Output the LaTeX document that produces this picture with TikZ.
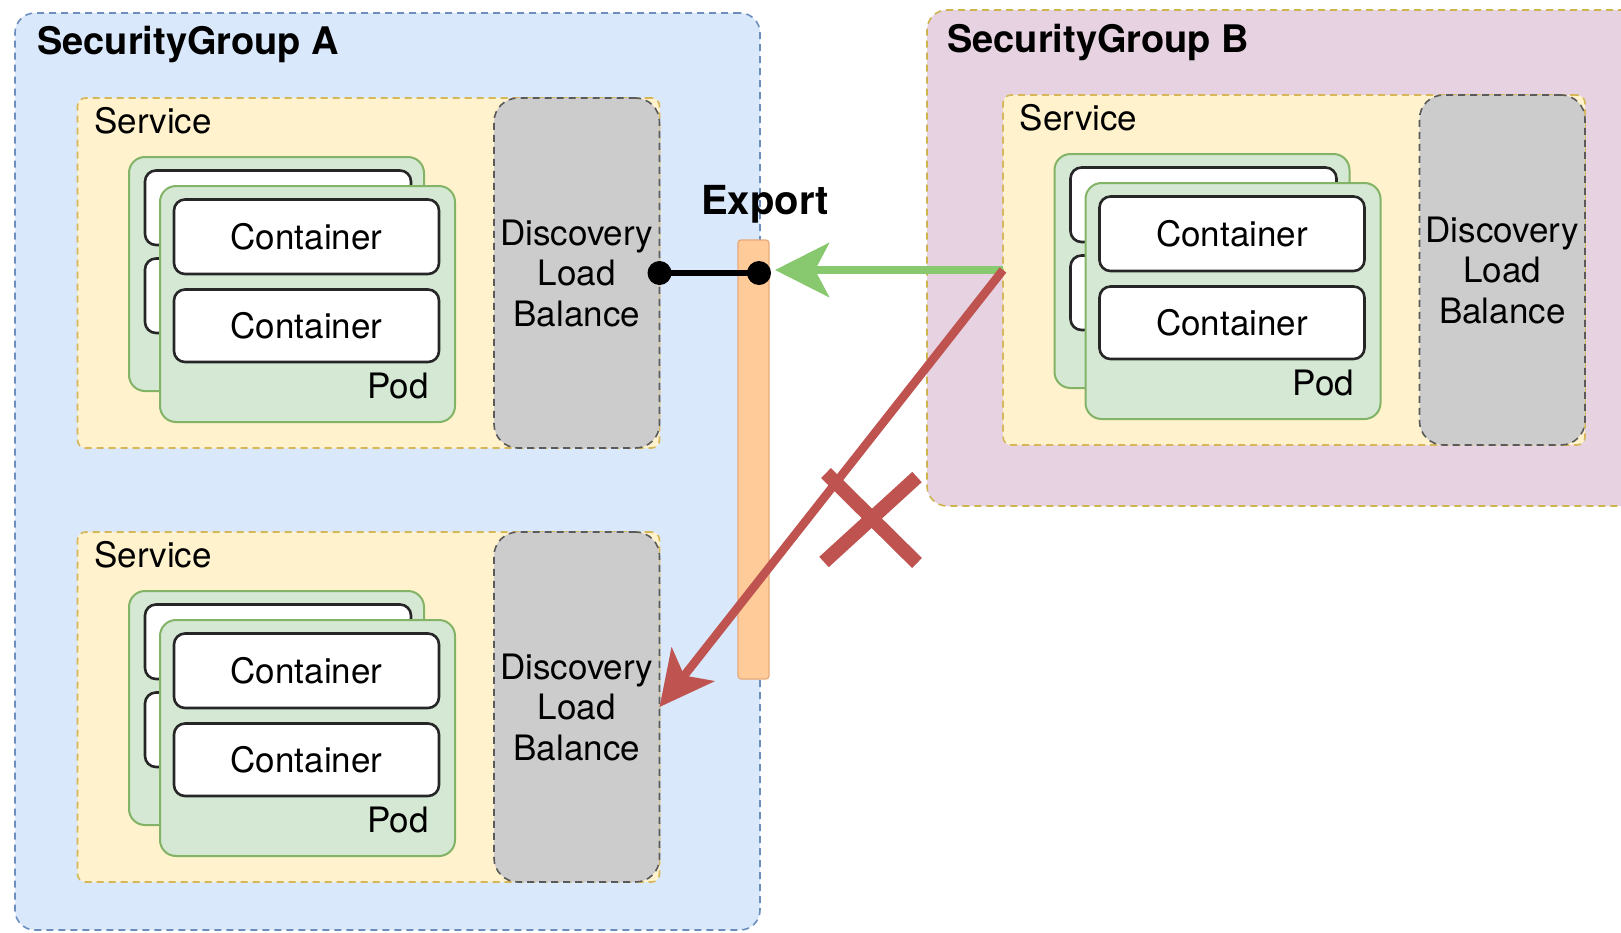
\documentclass[tikz,border=0pt]{standalone}
\usepackage{fontspec}
\setmainfont{TeX Gyre Heros}
\usetikzlibrary{arrows.meta}
\definecolor{sgAfill}{HTML}{DAE8FC}
\definecolor{sgAdraw}{HTML}{6C8EBF}
\definecolor{sgBfill}{HTML}{E6D2E0}
\definecolor{sgBdraw}{HTML}{CDB44E}
\definecolor{svcfill}{HTML}{FFF2CC}
\definecolor{svcdraw}{HTML}{D6B656}
\definecolor{podfill}{HTML}{D5E8D4}
\definecolor{poddraw}{HTML}{82B366}
\definecolor{dlbfill}{HTML}{CCCCCC}
\definecolor{dlbdraw}{HTML}{5A5A5A}
\definecolor{barfill}{HTML}{FFCC99}
\definecolor{bardraw}{HTML}{E8A978}
\definecolor{arrgreen}{HTML}{88C86F}
\definecolor{arrred}{HTML}{BE5350}
\newcommand\regfont{\fontsize{35}{40.5}\selectfont}
\newcommand\ttlfont{\fontsize{38}{42}\selectfont\bfseries}
\newcommand\expfont{\fontsize{40}{44}\selectfont\bfseries}
\tikzset{
  box/.style={rectangle, anchor=north west, inner sep=0pt, outer sep=0pt},
  sgA/.style={box, fill=sgAfill, draw=sgAdraw, dash pattern=on 7pt off 5pt, line width=1.6pt, rounded corners=20pt},
  sgB/.style={box, fill=sgBfill, draw=sgBdraw, dash pattern=on 7pt off 5pt, line width=1.6pt, rounded corners=20pt},
  svc/.style={box, fill=svcfill, draw=svcdraw, dash pattern=on 7pt off 5pt, line width=1.6pt, rounded corners=8pt},
  dlb/.style={box, fill=dlbfill, draw=dlbdraw, dash pattern=on 7pt off 5pt, line width=1.6pt, rounded corners=24pt},
  pod/.style={box, fill=podfill, draw=poddraw, line width=2pt, rounded corners=16pt},
  cont/.style={box, fill=white, draw=black!85, line width=2.6pt, rounded corners=11pt, font=\regfont},
  expbar/.style={box, fill=barfill, draw=bardraw, line width=1.2pt, rounded corners=3pt},
  lbl/.style={inner sep=0pt, font=\regfont},
  ttl/.style={inner sep=0pt, font=\ttlfont},
  blk/.style={draw=black, line width=6.5pt},
  dot/.style={fill=black},
  garrow/.style={draw=arrgreen, line width=8pt, -{Stealth[length=54pt, width=54pt, inset=14pt]}},
  rarrow/.style={draw=arrred, line width=8.5pt, -{Stealth[length=54pt, width=54pt, inset=14pt]}},
  redx/.style={draw=arrred, line width=14pt},
}
\newcommand\svcblock[3]{%
\begin{scope}[shift={(#2,#3)}]
  \node[svc, minimum width=582pt, minimum height=350pt] (#1svc) at (0,0) {};
  \node[pod, minimum width=295pt, minimum height=234pt] (#1podb) at (51.5,59) {};
  \node[cont, minimum width=266pt, minimum height=74.5pt] (#1cb1) at (67.5,72.5) {};
  \node[cont, minimum width=266pt, minimum height=74.5pt] (#1cb2) at (67.5,160.5) {};
  \node[pod, minimum width=295pt, minimum height=236pt] (#1pod) at (82.5,88) {};
  \node[cont, minimum width=265pt, minimum height=74.5pt] (#1c1) at (96.5,101.5) {Container};
  \node[cont, minimum width=265pt, minimum height=72.5pt] (#1c2) at (96.5,191.5) {Container};
  \node[lbl, anchor=base east] (#1podlbl) at (351.5,300) {Pod};
  \node[dlb, minimum width=165.5pt, minimum height=350pt] (#1dlb) at (416.5,0) {};
  \node[lbl, align=center] (#1dlbtxt) at (#1dlb.center) {Discovery\\Load\\Balance};
  \node[lbl, anchor=base west] (#1svclbl) at (16.5,35) {Service};
\end{scope}}
\begin{document}
\begin{tikzpicture}[x=1pt, y=-1pt]
\useasboundingbox (0,0) rectangle (1621,932);
\node[sgA, minimum width=745pt, minimum height=917pt] (sgA) at (15,13) {};
\node[sgB, minimum width=730pt, minimum height=496pt] (sgB) at (927,10) {};
\node[ttl, anchor=base west] (sgAlbl) at (37,54) {SecurityGroup A};
\node[ttl, anchor=base west] (sgBlbl) at (947,52) {SecurityGroup B};
\svcblock{A1}{77.5}{98}
\svcblock{A2}{77.5}{532}
\svcblock{B}{1003}{95}
\node[expbar, minimum width=31pt, minimum height=439pt] (bar) at (738,240) {};
\node[inner sep=0pt, font=\expfont, anchor=base] (explbl) at (765,214) {Export};
\coordinate (expdot) at (759,273);
\draw[blk] (A1dlb.east) -- (expdot);
\fill[dot] (A1dlb.east) circle[radius=12];
\fill[dot] (expdot) circle[radius=12];
\coordinate (gtip) at (775,270);
\draw[garrow] (Bsvc.west) -- (gtip);
\draw[rarrow] (Bsvc.west) -- (A2dlb.east);
\coordinate (x1) at (826,473);
\coordinate (x2) at (917,563);
\coordinate (x3) at (824,562);
\coordinate (x4) at (917,477);
\draw[redx] (x1) -- (x2);
\draw[redx] (x3) -- (x4);
\end{tikzpicture}
\end{document}
